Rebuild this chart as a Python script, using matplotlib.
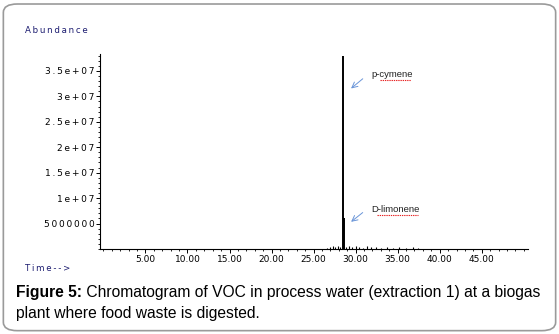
import matplotlib
matplotlib.use('Agg')
import matplotlib.pyplot as plt
from matplotlib.patches import FancyBboxPatch
from matplotlib.ticker import MultipleLocator

# retention times (min) and abundances
peak_t = [28.45, 28.58]
peak_h = [3.80e7, 6.1e6]
peak_names = ['p-cymene', 'D-limonene']

# small baseline bumps around the main peak
noise_t = [26.6, 27.0, 27.3, 27.6, 27.9, 28.1, 28.9, 29.2, 29.6, 30.0, 30.4,
           30.9, 31.3, 31.8, 32.4, 33.0, 33.7, 34.5, 35.2, 36.0, 36.8, 37.4]
noise_h = [2e5, 3e5, 5e5, 4e5, 6e5, 3e5, 4e5, 5e5, 3e5, 6e5, 4e5,
           2e5, 5e5, 3e5, 4e5, 2e5, 3e5, 2e5, 3e5, 2e5, 3e5, 2e5]

y_ticks = [5e6, 1e7, 1.5e7, 2e7, 2.5e7, 3e7, 3.5e7]
y_labels = ['5000000', '1e+07', '1.5e+07', '2e+07', '2.5e+07', '3e+07', '3.5e+07']
x_ticks = [5, 10, 15, 20, 25, 30, 35, 40, 45]

caption_bold = 'Figure 5:'
caption_rest = ' Chromatogram of VOC in process water (extraction 1) at a biogas'
caption_line2 = 'plant where food waste is digested.'


def spaced(s):
    # the instrument font is widely spaced; imitate with thin spaces
    return '\u2009'.join(s)


fig = plt.figure(figsize=(5.59, 3.34), dpi=100)

# rounded frame round the whole figure
frame = FancyBboxPatch((0.006, 0.01), 0.988, 0.978, boxstyle='round,pad=0,rounding_size=0.025',
                       transform=fig.transFigure, fill=False, edgecolor='#9a9a9a', linewidth=1.2)
fig.patches.append(frame)

ax = fig.add_axes([0.179, 0.2545, 0.7655, 0.5835])
ax.vlines(noise_t, 0, noise_h, color='black', linewidth=0.8)
ax.vlines(peak_t, 0, peak_h, color='black', linewidth=1.4)

ax.set_xlim(-0.4, 50.5)
ax.set_ylim(0, 3.83e7)
for s in ['top', 'right']:
    ax.spines[s].set_visible(False)
for s in ['left', 'bottom']:
    ax.spines[s].set_linewidth(0.8)

ax.set_xticks(x_ticks)
ax.set_xticklabels(['%.2f' % t for t in x_ticks])
ax.xaxis.set_minor_locator(MultipleLocator(1))
ax.set_yticks(y_ticks)
ax.set_yticklabels([spaced(l) for l in y_labels])
ax.yaxis.set_minor_locator(MultipleLocator(1e6))
ax.tick_params(axis='both', which='major', labelsize=6.5, length=3, width=0.7, pad=1)
ax.tick_params(axis='both', which='minor', length=1.5, width=0.6)

ax.text(-0.175, 1.12, spaced('Abundance'), transform=ax.transAxes, fontsize=6.2,
        color='#1c1c70', ha='left', va='center')
ax.text(-0.175, -0.1, spaced('Time-->'), transform=ax.transAxes, fontsize=6.2,
        color='#1c1c70', ha='left', va='center')

# labels with arrows, as pasted on the original figure
label_pos = [(31.9, 3.42e7), (31.8, 7.75e6)]
tail_pos = [(31.1, 3.38e7), (31.1, 7.5e6)]
tip_pos = [(29.2, 3.12e7), (29.2, 5.0e6)]
squiggle = [(32.9, 36.6, 3.32e7), (32.5, 37.4, 6.6e6)]
for name, (lx, ly), tail, tip, (u0, u1, uy) in zip(peak_names, label_pos, tail_pos,
                                                   tip_pos, squiggle):
    ax.annotate('', xy=tip, xytext=tail,
                arrowprops=dict(arrowstyle='->', color='#6a95d8', lw=0.7))
    ax.text(lx, ly, name, fontsize=6.8, color='#222222', ha='left', va='center',
            family='Liberation Sans')
    ax.plot([u0, u1], [uy, uy], color='#e82020', linewidth=0.8, linestyle=(0, (1.2, 0.8)))

fs = 11.25
t1 = fig.text(0.029, 0.123, caption_bold, fontsize=fs, fontweight='bold',
              family='Liberation Sans', ha='left', va='center')
fig.canvas.draw()
bb = t1.get_window_extent().transformed(fig.transFigure.inverted())
fig.text(bb.x1, 0.123, caption_rest, fontsize=fs,
         family='Liberation Sans', ha='left', va='center')
fig.text(0.029, 0.06, caption_line2, fontsize=fs,
         family='Liberation Sans', ha='left', va='center')

fig.savefig('out.png', dpi=100)
